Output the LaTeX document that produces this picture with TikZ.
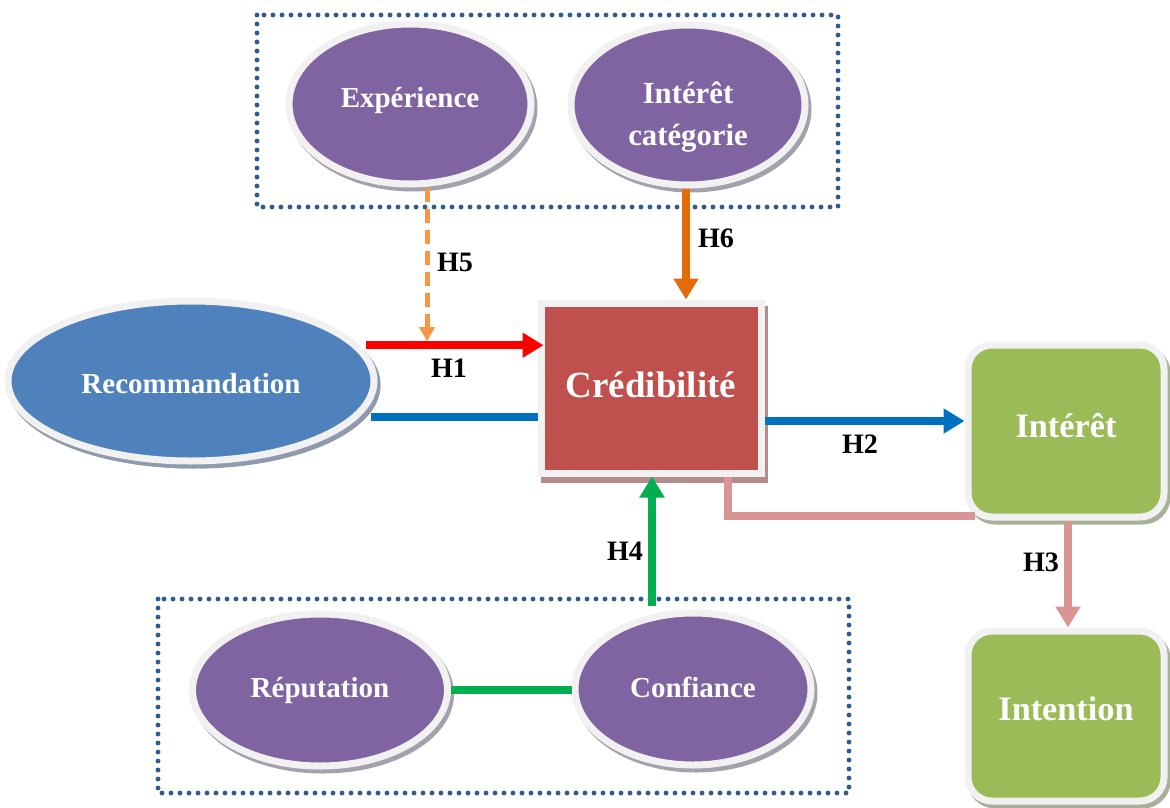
\documentclass[tikz,border=0pt]{standalone}
\usepackage{fontspec}
\setmainfont{Liberation Serif}
\usetikzlibrary{shapes.geometric,arrows.meta,shadows}
\newdimen\pxu \pxu=0.02cm
% text set with its baseline at a given offset from the node centre
\newcommand{\basetext}[2]{\raisebox{#1}[0pt][0pt]{#2}}
\definecolor{purp}{HTML}{8064A2}
\definecolor{recblue}{HTML}{4F81BD}
\definecolor{credred}{HTML}{C0504D}
\definecolor{olive}{HTML}{9BBB59}
\definecolor{rimgray}{HTML}{F1F1F1}
\definecolor{shgray}{HTML}{A3A1AD}
\definecolor{shblue}{HTML}{8F9AAE}
\definecolor{shred}{HTML}{B38C8C}
\definecolor{shgreen}{HTML}{A8B09A}
\definecolor{dotnavy}{HTML}{2F5B8F}
\definecolor{hred}{HTML}{FF0000}
\definecolor{hblue}{HTML}{0070C0}
\definecolor{hpink}{HTML}{D99594}
\definecolor{hgreen}{HTML}{00B050}
\definecolor{horangeL}{HTML}{F79646}
\definecolor{horangeD}{HTML}{E36C09}
\begin{document}
\begin{tikzpicture}[x=0.02cm,y=-0.02cm,
  rim/.style={draw=rimgray, line width=7\pxu, inner sep=0pt, text=white},
  oval/.style={ellipse, rim, fill=purp,
    font=\fontsize{16.5}{20}\selectfont\bfseries,
    drop shadow={shadow xshift=3\pxu, shadow yshift=-4\pxu, opacity=1,
      fill=shgray, draw=shgray, line width=7\pxu}},
  sqbox/.style={rectangle, rim, fill=credred,
    font=\fontsize{21}{25}\selectfont\bfseries,
    drop shadow={shadow xshift=3\pxu, shadow yshift=-6\pxu, opacity=1,
      fill=shred, draw=shred, line width=7\pxu}},
  rbox/.style={rectangle, rounded corners=24\pxu, rim, fill=olive,
    minimum width=196\pxu, minimum height=172\pxu,
    font=\fontsize{19.5}{23}\selectfont\bfseries,
    drop shadow={shadow xshift=3\pxu, shadow yshift=-4\pxu, opacity=1,
      fill=shgreen, draw=shgreen, line width=7\pxu}},
  group/.style={draw=dotnavy, line width=2.8pt, line cap=round,
    dash pattern=on 0pt off 9\pxu},
  hlabel/.style={font=\fontsize{16}{19}\selectfont\bfseries, text=black, inner sep=0pt},
  link/.style={line width=8\pxu},
  arr/.style={line width=8\pxu, -{Triangle[length=0.42cm, width=0.48cm]}}
]
\useasboundingbox (0,0) rectangle (1170,808);

% dotted group frames
\draw[group] (257,15) rectangle (838,207);
\draw[group] (158,599) rectangle (849,793);

% purple construct ellipses
\node[oval, minimum width=242\pxu, minimum height=160\pxu] (exp) at (410,104)
  {\basetext{-3\pxu}{Expérience}};
\node[oval, minimum width=234\pxu, minimum height=160\pxu,
      font=\fontsize{17.5}{24}\selectfont\bfseries] (cat) at (688,105)
  {\basetext{2\pxu}{\begin{tabular}[t]{@{}c@{}}Intérêt\\catégorie\end{tabular}}};
\node[oval, minimum width=255\pxu, minimum height=152\pxu] (rep) at (320,690)
  {\basetext{-7\pxu}{Réputation}};
\node[oval, minimum width=236\pxu, minimum height=152\pxu] (conf) at (693,689)
  {\basetext{-8\pxu}{Confiance}};

% main constructs
\node[oval, fill=recblue, minimum width=366\pxu, minimum height=160\pxu,
      drop shadow={shadow xshift=3\pxu, shadow yshift=-4\pxu, opacity=1,
      fill=shblue, draw=shblue, line width=7\pxu}] (rec) at (191,381)
  {\basetext{-12\pxu}{Recommandation}};
\node[sqbox, minimum width=220\pxu, minimum height=170\pxu] (cred) at (651,388)
  {\basetext{-9\pxu}{Crédibilité}};
\node[rbox] (int) at (1066,431) {\basetext{-6\pxu}{Intérêt}};
\node[rbox, minimum height=170\pxu] (intn) at (1066,716) {\basetext{-4\pxu}{Intention}};

% start points just off the oval border
\coordinate (recA) at ([xshift=7\pxu]rec.12);
\coordinate (recB) at ([xshift=12\pxu]rec.348);

% hypotheses
\draw[arr, hred, shorten >={-0.12cm}] (recA) -- (recA -| cred.west);
\draw[link, hblue] (recB) -- (recB -| cred.west);
\draw[arr, hblue] ([yshift=-33\pxu]cred.east) -- ([yshift=-33\pxu]cred.east -| int.west);
\draw[link, hpink] ([xshift=77\pxu]cred.south) |- ([yshift=-85\pxu, xshift=10\pxu]int.west);
\draw[arr, hpink] ([xshift=2\pxu]int.south) -- ([xshift=2\pxu]int.south |- intn.north);
\draw[arr, hgreen] ([xshift=-41\pxu, yshift=4\pxu]conf.north) -- ([xshift=-41\pxu]conf.north |- cred.south);
\draw[link, hgreen] (rep.east) -- (rep.east -| conf.west);
\draw[arr, horangeD] ([xshift=-2\pxu]cat.south) -- ([xshift=-2\pxu]cat.south |- cred.north);
\draw[line width=5\pxu, horangeL, dash pattern=on 14\pxu off 7\pxu,
      -{Triangle[length=0.28cm, width=0.3cm]}, shorten >={0.08cm}]
  ([xshift=17\pxu]exp.south) -- ([xshift=17\pxu]exp.south |- recA);

% hypothesis labels
\node[hlabel] (lh1) at (449,368) {H1};
\node[hlabel] (lh2) at (860,444) {H2};
\node[hlabel] (lh3) at (1041,562) {H3};
\node[hlabel] (lh4) at (625,551) {H4};
\node[hlabel] (lh5) at (455,262) {H5};
\node[hlabel] (lh6) at (716,238) {H6};
\end{tikzpicture}
\end{document}
